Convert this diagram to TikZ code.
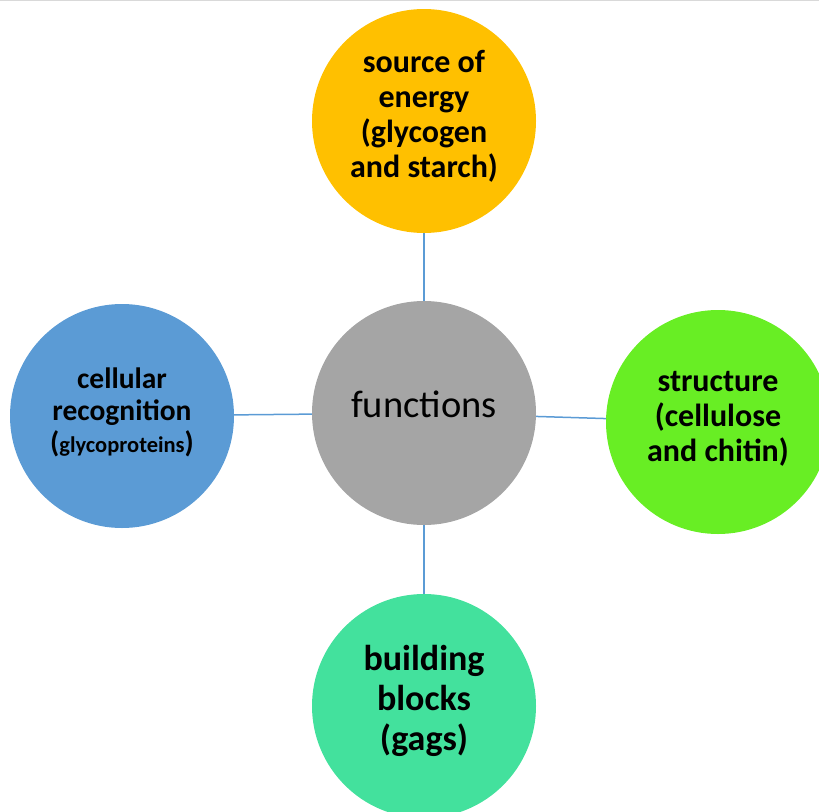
\documentclass[tikz,border=0pt]{standalone}
\usepackage{fontspec}
\setmainfont{Carlito}
\usepackage{tikz}
\usetikzlibrary{positioning}

\definecolor{orangefill}{HTML}{FFC000}
\definecolor{grayfill}{HTML}{A5A5A5}
\definecolor{bluefill}{HTML}{5B9BD5}
\definecolor{greenfill}{HTML}{68EE24}
\definecolor{tealfill}{HTML}{43E19D}
\definecolor{linkcol}{HTML}{5B9BD5}

\tikzset{
	bubble/.style={circle, minimum size=224pt, inner sep=0pt, align=center, font=\bfseries\fontsize{32}{35}\selectfont},
	link/.style={draw=linkcol, line width=1.5pt}
}

\begin{document}
\begin{tikzpicture}[x=1pt, y=-1pt]
	\useasboundingbox (0,0) rectangle (819,811);
	\clip (0,0) rectangle (819,811);
	\draw [black!15, line width=1pt] (0,0.5) -- (819,0.5);
	
	\node (fun) at (424,413) [bubble, fill=grayfill, font=\fontsize{38.5}{40}\selectfont] {\raisebox{18pt}{functions}};
	\node (en) at (424,121) [bubble, fill=orangefill] {\begin{tabular}{@{}c@{}}source of\\energy\\(glycogen\\and starch)\\[6pt]\end{tabular}};
	\node (rec) at (122,416) [bubble, fill=bluefill, font=\bfseries\fontsize{29.5}{32}\selectfont] {\begin{tabular}{@{}c@{}}cellular\\recognition\\({\fontsize{22.5}{32}\selectfont glycoproteins})\\[4pt]\end{tabular}};
	\node (str) at (718,422) [bubble, fill=greenfill] {\begin{tabular}{@{}c@{}}structure\\(cellulose\\and chitin)\\[6pt]\end{tabular}};
	\node (bb) at (424,706) [bubble, fill=tealfill, font=\bfseries\fontsize{36}{40}\selectfont] {\begin{tabular}{@{}c@{}}building\\blocks\\(gags)\\[8pt]\end{tabular}};
	
	\draw [link] (fun) -- (en);
	\draw [link] (fun) -- (rec);
	\draw [link] (fun) -- (str);
	\draw [link] (fun) -- (bb);
\end{tikzpicture}
\end{document}
